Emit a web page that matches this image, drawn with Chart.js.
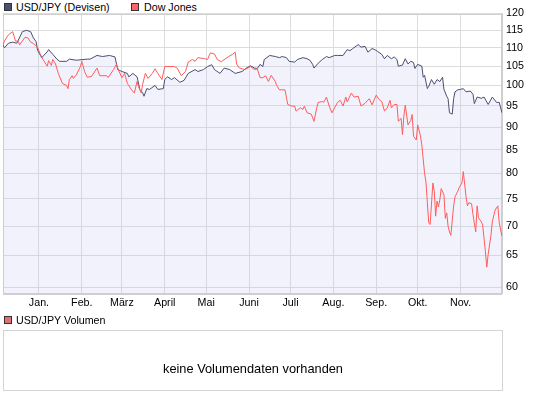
<!DOCTYPE html>
<html><head><meta charset="utf-8">
<script src="https://cdn.jsdelivr.net/npm/chart.js@4/dist/chart.umd.min.js"></script>
<style>
html,body{margin:0;padding:0;background:#fff;}
body{width:545px;height:395px;position:relative;overflow:hidden;font-family:"Liberation Sans",Arial,sans-serif;color:#000;}
#wrap{position:absolute;left:0;top:0;width:545px;height:315px;}
.lg{position:absolute;font-size:10.7px;line-height:12px;white-space:nowrap;}
.sw{position:absolute;width:6px;height:6px;border:1px solid #333;}
#vol{position:absolute;left:3px;top:330px;width:498px;height:59px;border:1px solid #d4d4d4;}
#volt{position:absolute;left:0;right:0;top:30px;text-align:center;font-size:12.8px;line-height:16px;}
</style></head>
<body>
<div class="sw" style="left:4px;top:3px;background:#4a5070"></div>
<div class="lg" style="left:16px;top:1px">USD/JPY (Devisen)</div>
<div class="sw" style="left:131px;top:3px;background:#ff6262"></div>
<div class="lg" style="left:144px;top:1px">Dow Jones</div>
<div id="wrap"><canvas id="c" width="545" height="315"></canvas></div>
<div class="sw" style="left:4px;top:316px;background:#e07070"></div>
<div class="lg" style="left:16px;top:314px">USD/JPY Volumen</div>
<div id="vol"><div id="volt">keine Volumendaten vorhanden</div></div>
<script>
// Day offsets are counted from 2007-12-06
const startDate = '2007-12-06';
const monthStarts = ['2008-01-01','2008-02-01','2008-03-01','2008-04-01','2008-05-01','2008-06-01','2008-07-01','2008-08-01','2008-09-01','2008-10-01','2008-11-01'];
const monthLabels = ['Jan.','Feb.','März','April','Mai','Juni','Juli','Aug.','Sep.','Okt.','Nov.'];
const yTicks = [60,65,70,75,80,85,90,95,100,105,110,115,120];

const usdDays = [0,1,4,7,10,14,17,20,22,24,25,28,32,33,36,39,41,46,48,53,61,63,68,72,77,81,83,86,90,91,94,97,99,101,102,104,106,110,112,116,117,119,122,124,128,131,134,139,141,145,148,151,153,157,160,164,168,173,176,179,182,184,186,188,189,193,197,200,202,205,207,211,213,217,220,222,224,225,228,231,234,236,240,242,246,249,251,253,257,259,262,264,267,269,271,274,276,278,281,283,285,286,289,291,293,295,297,298,300,303,304,305,307,308,310,312,314,316,318,319,321,322,323,325,326,327,329,331,333,335,338,340,341,343,346,348,351,354,357,359,361];
const usdVals = [110.8,110.0,111.3,111.6,111.3,114.6,115.0,114.6,112.8,111.7,109.3,107.3,108.9,109.5,108.2,106.9,106.3,106.3,106.9,106.6,106.9,106.9,107.9,107.6,107.9,107.5,104.1,103.6,103.1,102.2,103.1,102.2,99.0,98.2,97.3,99.2,99.0,100.0,99.0,99.2,101.5,102.2,101.5,102.0,100.8,101.3,103.1,104.1,103.6,104.1,104.9,105.4,104.1,103.1,104.5,104.1,103.1,103.6,104.5,105.1,104.5,104.4,105.5,104.9,106.8,107.9,107.6,107.3,107.6,107.3,106.3,106.1,106.8,107.3,107.0,106.6,105.5,104.5,105.8,106.8,107.6,107.3,107.9,107.9,107.9,109.5,109.2,109.8,110.9,110.2,110.4,108.8,109.8,109.5,109.0,108.2,107.0,107.9,107.0,107.5,106.8,105.0,105.3,107.0,105.6,106.3,106.0,104.4,105.5,105.0,102.1,102.6,99.2,99.8,101.5,100.3,101.5,101.0,102.1,99.0,97.3,96.7,93.3,93.0,96.7,98.4,98.9,99.0,99.2,98.4,98.6,97.8,95.5,97.1,96.8,97.1,95.3,97.1,95.8,95.8,93.3];

const dowDays = [0,1,4,7,8,9,11,12,14,16,18,20,22,25,27,29,32,33,35,36,38,40,43,46,47,48,50,51,53,56,57,59,61,64,68,70,75,76,80,82,84,86,88,90,93,95,97,98,100,101,103,105,108,110,112,115,117,124,126,129,132,134,137,139,141,146,148,150,153,155,158,162,166,168,169,171,175,179,182,184,186,188,190,192,194,197,198,200,204,205,206,209,211,212,215,217,218,220,223,225,227,228,231,232,234,236,238,242,244,246,248,249,252,254,257,259,262,265,267,270,272,274,276,278,280,281,283,285,286,288,289,290,291,293,295,296,297,299,300,302,303,305,306,307,308,309,311,312,313,314,315,316,317,319,320,321,322,323,324,326,327,329,330,332,333,335,336,337,339,340,342,343,344,346,347,349,350,351,353,354,356,358,359,361];
const dowVals = [110.8,111.9,113.7,114.6,113.3,111.9,111.9,110.8,111.9,113.0,112.8,111.6,111.2,110.2,108.2,106.8,105.0,106.5,105.2,106.8,105.6,103.1,100.5,100.0,99.2,101.5,102.5,101.8,102.7,104.9,106.3,103.6,102.1,102.3,104.5,102.5,102.5,102.0,104.1,105.5,103.6,102.0,103.1,100.5,98.9,98.1,101.0,99.8,98.1,100.3,103.1,101.8,103.1,104.3,103.1,101.5,104.9,104.9,104.5,102.5,103.6,106.1,106.8,106.3,107.3,107.0,106.8,108.6,108.3,106.8,106.2,107.3,108.2,108.8,105.6,104.5,104.1,104.9,104.1,104.3,102.0,102.0,102.5,101.0,102.6,101.0,100.0,98.9,98.9,97.1,95.3,94.9,94.9,93.7,94.5,94.1,94.9,93.3,93.0,91.3,94.5,95.8,96.0,95.8,97.1,94.9,93.3,95.8,96.3,94.9,97.1,95.9,98.1,97.1,97.3,94.9,95.6,96.7,95.2,97.6,96.5,96.0,93.7,94.5,96.3,94.5,95.3,95.3,91.3,92.0,88.3,92.5,95.1,90.5,91.5,92.9,87.9,87.1,90.5,88.0,86.0,80.0,78.3,74.3,70.6,70.3,78.1,76.5,71.8,74.6,73.5,74.8,77.0,75.8,71.4,72.4,70.0,69.0,68.4,73.7,75.4,76.5,77.2,78.1,80.4,75.4,73.7,74.3,74.1,72.1,69.0,73.7,71.5,70.8,70.2,65.6,63.1,65.2,68.4,70.8,72.9,73.7,70.6,68.2];

const DAY = 86400000;
const t0 = Date.parse(startDate + 'T00:00:00Z');
const monthDays = monthStarts.map(s => Math.round((Date.parse(s + 'T00:00:00Z') - t0) / DAY));
const xMax = 361;

const FONT = {family: '"Liberation Sans", Arial, sans-serif', size: 10.7};
const GRID = '#dcdcdc';

const borderPlugin = {
  id: 'areaBorder',
  beforeDatasetsDraw(chart) {
    const a = chart.chartArea, ctx = chart.ctx;
    ctx.save();
    ctx.strokeStyle = '#cfcfcf';
    ctx.lineWidth = 1;
    ctx.strokeRect(Math.round(a.left) + 0.5, Math.round(a.top) + 0.5, Math.round(a.right - a.left) - 1, Math.round(a.bottom - a.top));
    ctx.restore();
  }
};

new Chart(document.getElementById('c'), {
  type: 'line',
  data: {
    datasets: [
      {
        label: 'Dow Jones',
        data: dowDays.map((d, i) => ({x: d, y: dowVals[i]})),
        borderColor: '#ff5c5c',
        borderWidth: 1,
        pointRadius: 0,
        fill: false,
        tension: 0,
        order: 0
      },
      {
        label: 'USD/JPY (Devisen)',
        data: usdDays.map((d, i) => ({x: d, y: usdVals[i]})),
        borderColor: '#4a4f72',
        borderWidth: 1,
        pointRadius: 0,
        fill: 'start',
        backgroundColor: 'rgba(200,200,245,0.24)',
        tension: 0,
        order: 1
      }
    ]
  },
  options: {
    responsive: false,
    animation: false,
    events: [],
    layout: {padding: {left: 3, right: 0, top: 13.5, bottom: 0}},
    plugins: {legend: {display: false}, tooltip: {enabled: false}},
    scales: {
      x: {
        type: 'linear',
        min: 0,
        max: xMax,
        afterBuildTicks: s => { s.ticks = monthDays.map(v => ({value: v})); },
        afterFit: s => { s.height = 22; },
        ticks: {
          autoSkip: false,
          maxRotation: 0,
          padding: 4,
          color: '#000',
          font: FONT,
          callback: (v, i) => monthLabels[i]
        },
        grid: {color: GRID, drawTicks: false},
        border: {color: '#cfcfcf'}
      },
      y: {
        type: 'logarithmic',
        position: 'right',
        min: 59.1,
        max: 120,
        afterBuildTicks: s => { s.ticks = yTicks.map(v => ({value: v})); },
        afterFit: s => { s.width = 43; },
        ticks: {
          padding: 4,
          color: '#000',
          font: FONT,
          callback: v => String(v)
        },
        grid: {color: GRID, drawTicks: false},
        border: {color: '#cfcfcf'}
      }
    }
  },
  plugins: [borderPlugin]
});
</script>
</body></html>
